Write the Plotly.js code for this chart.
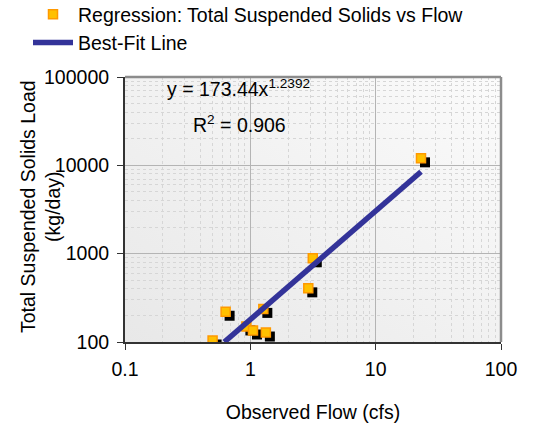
<!DOCTYPE html>
<html>
<head>
<meta charset="utf-8">
<script src="https://cdn.plot.ly/plotly-3.0.1.min.js"></script>
<style>
  html, body { margin: 0; padding: 0; background: #ffffff; }
  #chart { width: 535px; height: 427px; }
</style>
</head>
<body>
<div id="chart"></div>
<script>
// ---- data ----
const flowCfs = [0.50, 0.635, 0.93, 1.05, 1.27, 1.33, 2.90, 3.15, 23.0];
const tssLoad = [104, 220, 150, 135, 237, 128, 405, 887, 12000];
const fitLineX = [0.62, 23.0];
const fitLineY = [100, 8450];
const fitCoef = "173.44";
const fitExponent = "1.2392";
const fitR2 = "0.906";
const xTickVals = [0.1, 1, 10, 100];
const xTickText = ["0.1", "1", "10", "100"];
const yTickVals = [100, 1000, 10000, 100000];
const yTickText = ["100", "1000", "10000", "100000"];
const pointsName = "Regression: Total Suspended Solids vs Flow";
const lineName = "Best-Fit Line";
const xTitle = "Observed Flow (cfs)";
const yTitle = "Total Suspended Solids Load<br>(kg/day)";

// ---- layout constants ----
const W = 535, H = 427;
const M = { l: 125, r: 34, t: 77, b: 85, autoexpand: false };
const plotW = W - M.l - M.r, plotH = H - M.t - M.b;
const xr = [-1, 2], yr = [2, 5];
const shX = 4 * (xr[1] - xr[0]) / plotW;   // 4px shadow offset
const shY = 4 * (yr[1] - yr[0]) / plotH;
const FONT = "Liberation Sans, Arial, sans-serif";
const FS = 19.5;

function minorVals(lo, hi) {
  const out = [];
  for (let e = lo; e < hi; e++) for (let d = 2; d <= 9; d++) out.push(d * Math.pow(10, e));
  return out;
}

const hiddenAxis = { type: "log", showgrid: false, zeroline: false, showline: false, showticklabels: false, ticks: "", automargin: false };

const traces = [
  { x: [], y: [], xaxis: "x", yaxis: "y", showlegend: false, hoverinfo: "skip", type: "scatter" },
  { // shadow
    x: flowCfs, y: tssLoad, xaxis: "x2", yaxis: "y2", type: "scatter", mode: "markers",
    marker: { symbol: "square", size: 10, color: "#000000" },
    showlegend: false, hoverinfo: "skip"
  },
  {
    x: flowCfs, y: tssLoad, xaxis: "x3", yaxis: "y3", type: "scatter", mode: "markers",
    name: pointsName,
    marker: { symbol: "square", size: 9, color: "#FFC000", line: { color: "#FF9900", width: 1.5 } }
  },
  {
    x: fitLineX, y: fitLineY, xaxis: "x4", yaxis: "y4", type: "scatter", mode: "lines",
    name: lineName,
    line: { color: "#333399", width: 5.5 }
  }
];

const gradSvg = '<svg xmlns="http://www.w3.org/2000/svg" width="100" height="100" preserveAspectRatio="none">' +
  '<defs><linearGradient id="g" x1="0" y1="1" x2="1" y2="0">' +
  '<stop offset="0" stop-color="#E8E8E8"/><stop offset="1" stop-color="#FBFBFB"/></linearGradient></defs>' +
  '<rect width="100" height="100" fill="url(#g)"/></svg>';

const layout = {
  width: W, height: H,
  margin: M,
  paper_bgcolor: "#ffffff",
  plot_bgcolor: "rgba(0,0,0,0)",
  font: { family: FONT, size: FS, color: "#000000" },
  showlegend: true,
  legend: {
    xref: "container", yref: "paper",
    x: 28 / W, y: 1 + (M.t + 5) / plotH, xanchor: "left", yanchor: "top",
    bgcolor: "rgba(0,0,0,0)", borderwidth: 0,
    font: { family: FONT, size: FS, color: "#000000" },
    itemwidth: 40, tracegroupgap: 0
  },
  xaxis: {
    type: "log", range: xr, domain: [0, 1], automargin: false,
    tickmode: "array", tickvals: xTickVals, ticktext: xTickText, tickangle: 0,
    ticks: "outside", ticklen: 6, tickcolor: "#333333", tickwidth: 1,
    ticklabelstandoff: 3,
    showline: true, linecolor: "#333333", linewidth: 2,
    showgrid: true, gridcolor: "#B4B4B4", gridwidth: 1,
    zeroline: false,
    minor: { tickmode: "array", tickvals: minorVals(-1, 2), showgrid: true, gridcolor: "#D6D6D6", griddash: "dot", gridwidth: 1, ticks: "" },
    title: { text: xTitle, standoff: 26, font: { family: FONT, size: FS } }
  },
  yaxis: {
    type: "log", range: yr, domain: [0, 1], automargin: false,
    tickmode: "array", tickvals: yTickVals, ticktext: yTickText,
    ticks: "outside", ticklen: 6, tickcolor: "#333333", tickwidth: 1,
    ticklabelstandoff: 4,
    showline: true, linecolor: "#333333", linewidth: 2,
    showgrid: true, gridcolor: "#B4B4B4", gridwidth: 1,
    zeroline: false,
    minor: { tickmode: "array", tickvals: minorVals(2, 5), showgrid: true, gridcolor: "#D6D6D6", griddash: "dot", gridwidth: 1, ticks: "" }
  },
  xaxis2: Object.assign({}, hiddenAxis, { overlaying: "x", range: [xr[0] - shX, xr[1] - shX] }),
  yaxis2: Object.assign({}, hiddenAxis, { overlaying: "y", range: [yr[0] + shY, yr[1] + shY] }),
  xaxis3: Object.assign({}, hiddenAxis, { overlaying: "x", range: xr }),
  yaxis3: Object.assign({}, hiddenAxis, { overlaying: "y", range: yr }),
  xaxis4: Object.assign({}, hiddenAxis, { overlaying: "x", range: xr }),
  yaxis4: Object.assign({}, hiddenAxis, { overlaying: "y", range: yr }),
  images: [{
    source: "data:image/svg+xml;charset=utf-8," + encodeURIComponent(gradSvg),
    xref: "paper", yref: "paper", x: 0, y: 1, sizex: 1, sizey: 1,
    xanchor: "left", yanchor: "top", sizing: "stretch", layer: "below"
  }],
  shapes: [
    { type: "line", xref: "paper", yref: "paper", x0: 0, x1: 1, y0: 1, y1: 1, line: { color: "#8C8C8C", width: 2.5 }, layer: "above" },
    { type: "line", xref: "paper", yref: "paper", x0: 1, x1: 1, y0: 0, y1: 1, line: { color: "#8C8C8C", width: 2.5 }, layer: "above" }
  ],
  annotations: [
    {
      xref: "paper", yref: "paper", x: (40 - M.l) / plotW, y: 1 - (207 - M.t) / plotH,
      text: yTitle, textangle: -90, showarrow: false,
      font: { family: FONT, size: FS, color: "#000000" }, xanchor: "center", yanchor: "middle"
    },
    {
      xref: "paper", yref: "paper", x: (238 - M.l) / plotW, y: 1 - (88 - M.t) / plotH,
      text: "y = " + fitCoef + "x<sup>" + fitExponent + "</sup>", showarrow: false,
      font: { family: FONT, size: FS, color: "#000000" }, xanchor: "center", yanchor: "middle"
    },
    {
      xref: "paper", yref: "paper", x: (239 - M.l) / plotW, y: 1 - (124 - M.t) / plotH,
      text: "R<sup>2</sup> = " + fitR2, showarrow: false,
      font: { family: FONT, size: FS, color: "#000000" }, xanchor: "center", yanchor: "middle"
    }
  ]
};

Plotly.newPlot("chart", traces, layout, { staticPlot: true, displayModeBar: false });
</script>
</body>
</html>
